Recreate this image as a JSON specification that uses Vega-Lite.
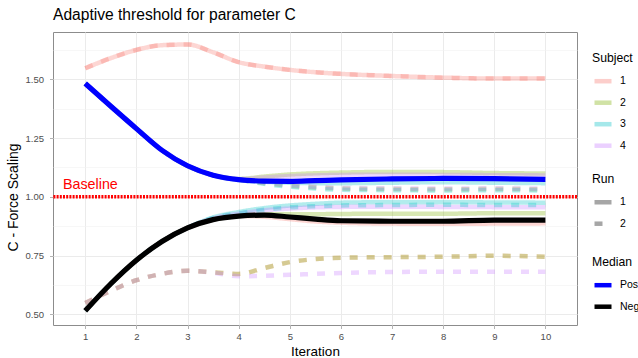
{
"$schema":"https://vega.github.io/schema/vega-lite/v6.json",
"width":524,"height":293,
"autosize":{"type":"none"},
"padding":{"left":53,"top":32,"right":61,"bottom":33},
"title":{"text":"Adaptive threshold for parameter C","anchor":"start","frame":"group","fontSize":15.6,"font":"Liberation Sans","fontWeight":"normal","color":"black","offset":8},
"config":{
"font":"Liberation Sans",
"view":{"stroke":"#8c8c8c","strokeWidth":1},
"axis":{"gridColor":"#EBEBEB","gridWidth":1,"domain":false,"tickColor":"#B3B3B3","tickSize":3.5,"labelColor":"#4D4D4D","labelFontSize":9.5,"titleFontSize":13.5,"titleFontWeight":"normal","titleColor":"black","labelPadding":3},
"legend":{"titleFontSize":12.2,"titleFontWeight":"normal","titleColor":"black","labelFontSize":10.5,"labelColor":"black","symbolType":"stroke","symbolSize":289,"symbolStrokeWidth":4.5,"rowPadding":1.5,"titlePadding":6,"labelOffset":6}
},
"datasets":{
"subj":[
{"Iteration":1,"Subject":"1","Run":"1","Side":"Pos","Value":1.547},{"Iteration":1.5,"Subject":"1","Run":"1","Side":"Pos","Value":1.59},{"Iteration":2,"Subject":"1","Run":"1","Side":"Pos","Value":1.625},{"Iteration":2.5,"Subject":"1","Run":"1","Side":"Pos","Value":1.645},{"Iteration":3,"Subject":"1","Run":"1","Side":"Pos","Value":1.648},{"Iteration":3.5,"Subject":"1","Run":"1","Side":"Pos","Value":1.615},{"Iteration":4,"Subject":"1","Run":"1","Side":"Pos","Value":1.573},{"Iteration":4.5,"Subject":"1","Run":"1","Side":"Pos","Value":1.554},{"Iteration":5,"Subject":"1","Run":"1","Side":"Pos","Value":1.54},{"Iteration":5.5,"Subject":"1","Run":"1","Side":"Pos","Value":1.53},{"Iteration":6,"Subject":"1","Run":"1","Side":"Pos","Value":1.523},{"Iteration":7,"Subject":"1","Run":"1","Side":"Pos","Value":1.514},{"Iteration":8,"Subject":"1","Run":"1","Side":"Pos","Value":1.507},{"Iteration":9,"Subject":"1","Run":"1","Side":"Pos","Value":1.503},{"Iteration":10,"Subject":"1","Run":"1","Side":"Pos","Value":1.503},
{"Iteration":1,"Subject":"1","Run":"2","Side":"Pos","Value":1.547},{"Iteration":1.5,"Subject":"1","Run":"2","Side":"Pos","Value":1.59},{"Iteration":2,"Subject":"1","Run":"2","Side":"Pos","Value":1.625},{"Iteration":2.5,"Subject":"1","Run":"2","Side":"Pos","Value":1.645},{"Iteration":3,"Subject":"1","Run":"2","Side":"Pos","Value":1.648},{"Iteration":3.5,"Subject":"1","Run":"2","Side":"Pos","Value":1.615},{"Iteration":4,"Subject":"1","Run":"2","Side":"Pos","Value":1.573},{"Iteration":4.5,"Subject":"1","Run":"2","Side":"Pos","Value":1.554},{"Iteration":5,"Subject":"1","Run":"2","Side":"Pos","Value":1.54},{"Iteration":5.5,"Subject":"1","Run":"2","Side":"Pos","Value":1.53},{"Iteration":6,"Subject":"1","Run":"2","Side":"Pos","Value":1.523},{"Iteration":7,"Subject":"1","Run":"2","Side":"Pos","Value":1.514},{"Iteration":8,"Subject":"1","Run":"2","Side":"Pos","Value":1.507},{"Iteration":9,"Subject":"1","Run":"2","Side":"Pos","Value":1.503},{"Iteration":10,"Subject":"1","Run":"2","Side":"Pos","Value":1.503},
{"Iteration":1,"Subject":"2","Run":"1","Side":"Pos","Value":1.482},{"Iteration":1.5,"Subject":"2","Run":"1","Side":"Pos","Value":1.385},{"Iteration":2,"Subject":"2","Run":"1","Side":"Pos","Value":1.29},{"Iteration":2.5,"Subject":"2","Run":"1","Side":"Pos","Value":1.198},{"Iteration":3,"Subject":"2","Run":"1","Side":"Pos","Value":1.132},{"Iteration":3.5,"Subject":"2","Run":"1","Side":"Pos","Value":1.092},{"Iteration":4,"Subject":"2","Run":"1","Side":"Pos","Value":1.076},{"Iteration":4.5,"Subject":"2","Run":"1","Side":"Pos","Value":1.086},{"Iteration":5,"Subject":"2","Run":"1","Side":"Pos","Value":1.095},{"Iteration":5.5,"Subject":"2","Run":"1","Side":"Pos","Value":1.1},{"Iteration":6,"Subject":"2","Run":"1","Side":"Pos","Value":1.103},{"Iteration":7,"Subject":"2","Run":"1","Side":"Pos","Value":1.106},{"Iteration":8,"Subject":"2","Run":"1","Side":"Pos","Value":1.105},{"Iteration":9,"Subject":"2","Run":"1","Side":"Pos","Value":1.101},{"Iteration":10,"Subject":"2","Run":"1","Side":"Pos","Value":1.099},
{"Iteration":1,"Subject":"3","Run":"1","Side":"Pos","Value":1.482},{"Iteration":1.5,"Subject":"3","Run":"1","Side":"Pos","Value":1.385},{"Iteration":2,"Subject":"3","Run":"1","Side":"Pos","Value":1.29},{"Iteration":2.5,"Subject":"3","Run":"1","Side":"Pos","Value":1.198},{"Iteration":3,"Subject":"3","Run":"1","Side":"Pos","Value":1.132},{"Iteration":3.5,"Subject":"3","Run":"1","Side":"Pos","Value":1.092},{"Iteration":4,"Subject":"3","Run":"1","Side":"Pos","Value":1.071},{"Iteration":4.5,"Subject":"3","Run":"1","Side":"Pos","Value":1.064},{"Iteration":5,"Subject":"3","Run":"1","Side":"Pos","Value":1.06},{"Iteration":5.5,"Subject":"3","Run":"1","Side":"Pos","Value":1.058},{"Iteration":6,"Subject":"3","Run":"1","Side":"Pos","Value":1.058},{"Iteration":7,"Subject":"3","Run":"1","Side":"Pos","Value":1.06},{"Iteration":8,"Subject":"3","Run":"1","Side":"Pos","Value":1.062},{"Iteration":9,"Subject":"3","Run":"1","Side":"Pos","Value":1.06},{"Iteration":10,"Subject":"3","Run":"1","Side":"Pos","Value":1.058},
{"Iteration":1,"Subject":"4","Run":"1","Side":"Pos","Value":1.482},{"Iteration":1.5,"Subject":"4","Run":"1","Side":"Pos","Value":1.385},{"Iteration":2,"Subject":"4","Run":"1","Side":"Pos","Value":1.29},{"Iteration":2.5,"Subject":"4","Run":"1","Side":"Pos","Value":1.198},{"Iteration":3,"Subject":"4","Run":"1","Side":"Pos","Value":1.132},{"Iteration":3.5,"Subject":"4","Run":"1","Side":"Pos","Value":1.092},{"Iteration":4,"Subject":"4","Run":"1","Side":"Pos","Value":1.075},{"Iteration":4.5,"Subject":"4","Run":"1","Side":"Pos","Value":1.082},{"Iteration":5,"Subject":"4","Run":"1","Side":"Pos","Value":1.088},{"Iteration":5.5,"Subject":"4","Run":"1","Side":"Pos","Value":1.091},{"Iteration":6,"Subject":"4","Run":"1","Side":"Pos","Value":1.093},{"Iteration":7,"Subject":"4","Run":"1","Side":"Pos","Value":1.094},{"Iteration":8,"Subject":"4","Run":"1","Side":"Pos","Value":1.093},{"Iteration":9,"Subject":"4","Run":"1","Side":"Pos","Value":1.092},{"Iteration":10,"Subject":"4","Run":"1","Side":"Pos","Value":1.091},
{"Iteration":1,"Subject":"2","Run":"2","Side":"Pos","Value":1.482},{"Iteration":1.5,"Subject":"2","Run":"2","Side":"Pos","Value":1.385},{"Iteration":2,"Subject":"2","Run":"2","Side":"Pos","Value":1.29},{"Iteration":2.5,"Subject":"2","Run":"2","Side":"Pos","Value":1.198},{"Iteration":3,"Subject":"2","Run":"2","Side":"Pos","Value":1.132},{"Iteration":3.5,"Subject":"2","Run":"2","Side":"Pos","Value":1.092},{"Iteration":4,"Subject":"2","Run":"2","Side":"Pos","Value":1.073},{"Iteration":4.5,"Subject":"2","Run":"2","Side":"Pos","Value":1.058},{"Iteration":5,"Subject":"2","Run":"2","Side":"Pos","Value":1.047},{"Iteration":5.5,"Subject":"2","Run":"2","Side":"Pos","Value":1.04},{"Iteration":6,"Subject":"2","Run":"2","Side":"Pos","Value":1.035},{"Iteration":7,"Subject":"2","Run":"2","Side":"Pos","Value":1.033},{"Iteration":8,"Subject":"2","Run":"2","Side":"Pos","Value":1.032},{"Iteration":9,"Subject":"2","Run":"2","Side":"Pos","Value":1.033},{"Iteration":10,"Subject":"2","Run":"2","Side":"Pos","Value":1.032},
{"Iteration":1,"Subject":"3","Run":"2","Side":"Pos","Value":1.482},{"Iteration":1.5,"Subject":"3","Run":"2","Side":"Pos","Value":1.385},{"Iteration":2,"Subject":"3","Run":"2","Side":"Pos","Value":1.29},{"Iteration":2.5,"Subject":"3","Run":"2","Side":"Pos","Value":1.198},{"Iteration":3,"Subject":"3","Run":"2","Side":"Pos","Value":1.132},{"Iteration":3.5,"Subject":"3","Run":"2","Side":"Pos","Value":1.092},{"Iteration":4,"Subject":"3","Run":"2","Side":"Pos","Value":1.073},{"Iteration":4.5,"Subject":"3","Run":"2","Side":"Pos","Value":1.055},{"Iteration":5,"Subject":"3","Run":"2","Side":"Pos","Value":1.043},{"Iteration":5.5,"Subject":"3","Run":"2","Side":"Pos","Value":1.035},{"Iteration":6,"Subject":"3","Run":"2","Side":"Pos","Value":1.03},{"Iteration":7,"Subject":"3","Run":"2","Side":"Pos","Value":1.028},{"Iteration":8,"Subject":"3","Run":"2","Side":"Pos","Value":1.027},{"Iteration":9,"Subject":"3","Run":"2","Side":"Pos","Value":1.028},{"Iteration":10,"Subject":"3","Run":"2","Side":"Pos","Value":1.027},
{"Iteration":1,"Subject":"4","Run":"2","Side":"Pos","Value":1.482},{"Iteration":1.5,"Subject":"4","Run":"2","Side":"Pos","Value":1.385},{"Iteration":2,"Subject":"4","Run":"2","Side":"Pos","Value":1.29},{"Iteration":2.5,"Subject":"4","Run":"2","Side":"Pos","Value":1.198},{"Iteration":3,"Subject":"4","Run":"2","Side":"Pos","Value":1.132},{"Iteration":3.5,"Subject":"4","Run":"2","Side":"Pos","Value":1.092},{"Iteration":4,"Subject":"4","Run":"2","Side":"Pos","Value":1.073},{"Iteration":4.5,"Subject":"4","Run":"2","Side":"Pos","Value":1.06},{"Iteration":5,"Subject":"4","Run":"2","Side":"Pos","Value":1.05},{"Iteration":5.5,"Subject":"4","Run":"2","Side":"Pos","Value":1.043},{"Iteration":6,"Subject":"4","Run":"2","Side":"Pos","Value":1.038},{"Iteration":7,"Subject":"4","Run":"2","Side":"Pos","Value":1.036},{"Iteration":8,"Subject":"4","Run":"2","Side":"Pos","Value":1.035},{"Iteration":9,"Subject":"4","Run":"2","Side":"Pos","Value":1.036},{"Iteration":10,"Subject":"4","Run":"2","Side":"Pos","Value":1.035},
{"Iteration":1,"Subject":"1","Run":"1","Side":"Neg","Value":0.515},{"Iteration":1.5,"Subject":"1","Run":"1","Side":"Neg","Value":0.63},{"Iteration":2,"Subject":"1","Run":"1","Side":"Neg","Value":0.73},{"Iteration":2.5,"Subject":"1","Run":"1","Side":"Neg","Value":0.81},{"Iteration":3,"Subject":"1","Run":"1","Side":"Neg","Value":0.868},{"Iteration":3.5,"Subject":"1","Run":"1","Side":"Neg","Value":0.903},{"Iteration":4,"Subject":"1","Run":"1","Side":"Neg","Value":0.918},{"Iteration":4.5,"Subject":"1","Run":"1","Side":"Neg","Value":0.915},{"Iteration":5,"Subject":"1","Run":"1","Side":"Neg","Value":0.905},{"Iteration":5.5,"Subject":"1","Run":"1","Side":"Neg","Value":0.895},{"Iteration":6,"Subject":"1","Run":"1","Side":"Neg","Value":0.89},{"Iteration":7,"Subject":"1","Run":"1","Side":"Neg","Value":0.886},{"Iteration":8,"Subject":"1","Run":"1","Side":"Neg","Value":0.885},{"Iteration":9,"Subject":"1","Run":"1","Side":"Neg","Value":0.886},{"Iteration":10,"Subject":"1","Run":"1","Side":"Neg","Value":0.887},
{"Iteration":1,"Subject":"2","Run":"1","Side":"Neg","Value":0.515},{"Iteration":1.5,"Subject":"2","Run":"1","Side":"Neg","Value":0.63},{"Iteration":2,"Subject":"2","Run":"1","Side":"Neg","Value":0.73},{"Iteration":2.5,"Subject":"2","Run":"1","Side":"Neg","Value":0.81},{"Iteration":3,"Subject":"2","Run":"1","Side":"Neg","Value":0.868},{"Iteration":3.5,"Subject":"2","Run":"1","Side":"Neg","Value":0.903},{"Iteration":4,"Subject":"2","Run":"1","Side":"Neg","Value":0.918},{"Iteration":4.5,"Subject":"2","Run":"1","Side":"Neg","Value":0.925},{"Iteration":5,"Subject":"2","Run":"1","Side":"Neg","Value":0.926},{"Iteration":5.5,"Subject":"2","Run":"1","Side":"Neg","Value":0.926},{"Iteration":6,"Subject":"2","Run":"1","Side":"Neg","Value":0.927},{"Iteration":7,"Subject":"2","Run":"1","Side":"Neg","Value":0.928},{"Iteration":8,"Subject":"2","Run":"1","Side":"Neg","Value":0.928},{"Iteration":9,"Subject":"2","Run":"1","Side":"Neg","Value":0.93},{"Iteration":10,"Subject":"2","Run":"1","Side":"Neg","Value":0.93},
{"Iteration":1,"Subject":"3","Run":"1","Side":"Neg","Value":0.515},{"Iteration":1.5,"Subject":"3","Run":"1","Side":"Neg","Value":0.63},{"Iteration":2,"Subject":"3","Run":"1","Side":"Neg","Value":0.73},{"Iteration":2.5,"Subject":"3","Run":"1","Side":"Neg","Value":0.81},{"Iteration":3,"Subject":"3","Run":"1","Side":"Neg","Value":0.868},{"Iteration":3.5,"Subject":"3","Run":"1","Side":"Neg","Value":0.912},{"Iteration":4,"Subject":"3","Run":"1","Side":"Neg","Value":0.935},{"Iteration":4.5,"Subject":"3","Run":"1","Side":"Neg","Value":0.952},{"Iteration":5,"Subject":"3","Run":"1","Side":"Neg","Value":0.963},{"Iteration":5.5,"Subject":"3","Run":"1","Side":"Neg","Value":0.97},{"Iteration":6,"Subject":"3","Run":"1","Side":"Neg","Value":0.975},{"Iteration":7,"Subject":"3","Run":"1","Side":"Neg","Value":0.977},{"Iteration":8,"Subject":"3","Run":"1","Side":"Neg","Value":0.977},{"Iteration":9,"Subject":"3","Run":"1","Side":"Neg","Value":0.976},{"Iteration":10,"Subject":"3","Run":"1","Side":"Neg","Value":0.975},
{"Iteration":1,"Subject":"4","Run":"1","Side":"Neg","Value":0.515},{"Iteration":1.5,"Subject":"4","Run":"1","Side":"Neg","Value":0.63},{"Iteration":2,"Subject":"4","Run":"1","Side":"Neg","Value":0.73},{"Iteration":2.5,"Subject":"4","Run":"1","Side":"Neg","Value":0.81},{"Iteration":3,"Subject":"4","Run":"1","Side":"Neg","Value":0.868},{"Iteration":3.5,"Subject":"4","Run":"1","Side":"Neg","Value":0.908},{"Iteration":4,"Subject":"4","Run":"1","Side":"Neg","Value":0.928},{"Iteration":4.5,"Subject":"4","Run":"1","Side":"Neg","Value":0.942},{"Iteration":5,"Subject":"4","Run":"1","Side":"Neg","Value":0.95},{"Iteration":5.5,"Subject":"4","Run":"1","Side":"Neg","Value":0.955},{"Iteration":6,"Subject":"4","Run":"1","Side":"Neg","Value":0.957},{"Iteration":7,"Subject":"4","Run":"1","Side":"Neg","Value":0.958},{"Iteration":8,"Subject":"4","Run":"1","Side":"Neg","Value":0.957},{"Iteration":9,"Subject":"4","Run":"1","Side":"Neg","Value":0.956},{"Iteration":10,"Subject":"4","Run":"1","Side":"Neg","Value":0.955},
{"Iteration":1,"Subject":"1","Run":"2","Side":"Neg","Value":0.548},{"Iteration":1.5,"Subject":"1","Run":"2","Side":"Neg","Value":0.6},{"Iteration":2,"Subject":"1","Run":"2","Side":"Neg","Value":0.645},{"Iteration":2.5,"Subject":"1","Run":"2","Side":"Neg","Value":0.672},{"Iteration":3,"Subject":"1","Run":"2","Side":"Neg","Value":0.685},{"Iteration":3.5,"Subject":"1","Run":"2","Side":"Neg","Value":0.679},{"Iteration":4,"Subject":"1","Run":"2","Side":"Neg","Value":0.672},{"Iteration":4.5,"Subject":"1","Run":"2","Side":"Neg","Value":0.697},{"Iteration":5,"Subject":"1","Run":"2","Side":"Neg","Value":0.722},{"Iteration":5.5,"Subject":"1","Run":"2","Side":"Neg","Value":0.735},{"Iteration":6,"Subject":"1","Run":"2","Side":"Neg","Value":0.741},{"Iteration":7,"Subject":"1","Run":"2","Side":"Neg","Value":0.743},{"Iteration":8,"Subject":"1","Run":"2","Side":"Neg","Value":0.745},{"Iteration":9,"Subject":"1","Run":"2","Side":"Neg","Value":0.749},{"Iteration":10,"Subject":"1","Run":"2","Side":"Neg","Value":0.745},
{"Iteration":1,"Subject":"2","Run":"2","Side":"Neg","Value":0.548},{"Iteration":1.5,"Subject":"2","Run":"2","Side":"Neg","Value":0.6},{"Iteration":2,"Subject":"2","Run":"2","Side":"Neg","Value":0.645},{"Iteration":2.5,"Subject":"2","Run":"2","Side":"Neg","Value":0.672},{"Iteration":3,"Subject":"2","Run":"2","Side":"Neg","Value":0.685},{"Iteration":3.5,"Subject":"2","Run":"2","Side":"Neg","Value":0.679},{"Iteration":4,"Subject":"2","Run":"2","Side":"Neg","Value":0.672},{"Iteration":4.5,"Subject":"2","Run":"2","Side":"Neg","Value":0.697},{"Iteration":5,"Subject":"2","Run":"2","Side":"Neg","Value":0.722},{"Iteration":5.5,"Subject":"2","Run":"2","Side":"Neg","Value":0.735},{"Iteration":6,"Subject":"2","Run":"2","Side":"Neg","Value":0.741},{"Iteration":7,"Subject":"2","Run":"2","Side":"Neg","Value":0.743},{"Iteration":8,"Subject":"2","Run":"2","Side":"Neg","Value":0.745},{"Iteration":9,"Subject":"2","Run":"2","Side":"Neg","Value":0.749},{"Iteration":10,"Subject":"2","Run":"2","Side":"Neg","Value":0.745},
{"Iteration":1,"Subject":"3","Run":"2","Side":"Neg","Value":0.515},{"Iteration":1.5,"Subject":"3","Run":"2","Side":"Neg","Value":0.63},{"Iteration":2,"Subject":"3","Run":"2","Side":"Neg","Value":0.73},{"Iteration":2.5,"Subject":"3","Run":"2","Side":"Neg","Value":0.81},{"Iteration":3,"Subject":"3","Run":"2","Side":"Neg","Value":0.868},{"Iteration":3.5,"Subject":"3","Run":"2","Side":"Neg","Value":0.91},{"Iteration":4,"Subject":"3","Run":"2","Side":"Neg","Value":0.93},{"Iteration":4.5,"Subject":"3","Run":"2","Side":"Neg","Value":0.945},{"Iteration":5,"Subject":"3","Run":"2","Side":"Neg","Value":0.955},{"Iteration":5.5,"Subject":"3","Run":"2","Side":"Neg","Value":0.96},{"Iteration":6,"Subject":"3","Run":"2","Side":"Neg","Value":0.963},{"Iteration":7,"Subject":"3","Run":"2","Side":"Neg","Value":0.965},{"Iteration":8,"Subject":"3","Run":"2","Side":"Neg","Value":0.966},{"Iteration":9,"Subject":"3","Run":"2","Side":"Neg","Value":0.965},{"Iteration":10,"Subject":"3","Run":"2","Side":"Neg","Value":0.965},
{"Iteration":1,"Subject":"4","Run":"2","Side":"Neg","Value":0.548},{"Iteration":1.5,"Subject":"4","Run":"2","Side":"Neg","Value":0.6},{"Iteration":2,"Subject":"4","Run":"2","Side":"Neg","Value":0.645},{"Iteration":2.5,"Subject":"4","Run":"2","Side":"Neg","Value":0.672},{"Iteration":3,"Subject":"4","Run":"2","Side":"Neg","Value":0.685},{"Iteration":3.5,"Subject":"4","Run":"2","Side":"Neg","Value":0.677},{"Iteration":4,"Subject":"4","Run":"2","Side":"Neg","Value":0.662},{"Iteration":4.5,"Subject":"4","Run":"2","Side":"Neg","Value":0.664},{"Iteration":5,"Subject":"4","Run":"2","Side":"Neg","Value":0.668},{"Iteration":5.5,"Subject":"4","Run":"2","Side":"Neg","Value":0.672},{"Iteration":6,"Subject":"4","Run":"2","Side":"Neg","Value":0.676},{"Iteration":7,"Subject":"4","Run":"2","Side":"Neg","Value":0.68},{"Iteration":8,"Subject":"4","Run":"2","Side":"Neg","Value":0.681},{"Iteration":9,"Subject":"4","Run":"2","Side":"Neg","Value":0.681},{"Iteration":10,"Subject":"4","Run":"2","Side":"Neg","Value":0.681}
],
"med":[
{"Iteration":1,"Median":"Positive","Value":1.482},{"Iteration":1.5,"Median":"Positive","Value":1.385},{"Iteration":2,"Median":"Positive","Value":1.29},{"Iteration":2.5,"Median":"Positive","Value":1.198},{"Iteration":3,"Median":"Positive","Value":1.132},{"Iteration":3.5,"Median":"Positive","Value":1.092},{"Iteration":4,"Median":"Positive","Value":1.073},{"Iteration":4.5,"Median":"Positive","Value":1.067},{"Iteration":5,"Median":"Positive","Value":1.066},{"Iteration":5.5,"Median":"Positive","Value":1.069},{"Iteration":6,"Median":"Positive","Value":1.072},{"Iteration":7,"Median":"Positive","Value":1.076},{"Iteration":8,"Median":"Positive","Value":1.078},{"Iteration":9,"Median":"Positive","Value":1.077},{"Iteration":10,"Median":"Positive","Value":1.074},
{"Iteration":1,"Median":"Negative","Value":0.515},{"Iteration":1.5,"Median":"Negative","Value":0.63},{"Iteration":2,"Median":"Negative","Value":0.73},{"Iteration":2.5,"Median":"Negative","Value":0.81},{"Iteration":3,"Median":"Negative","Value":0.868},{"Iteration":3.5,"Median":"Negative","Value":0.903},{"Iteration":4,"Median":"Negative","Value":0.918},{"Iteration":4.5,"Median":"Negative","Value":0.922},{"Iteration":5,"Median":"Negative","Value":0.914},{"Iteration":5.5,"Median":"Negative","Value":0.905},{"Iteration":6,"Median":"Negative","Value":0.898},{"Iteration":7,"Median":"Negative","Value":0.896},{"Iteration":8,"Median":"Negative","Value":0.896},{"Iteration":9,"Median":"Negative","Value":0.901},{"Iteration":10,"Median":"Negative","Value":0.901}
]
},
"layer":[
{"data":{"name":"subj"},
"mark":{"type":"line","opacity":0.3,"strokeWidth":4.5,"strokeCap":"butt","interpolate":"monotone"},
"encoding":{
"x":{"field":"Iteration","type":"quantitative","scale":{"domain":[0.369,10.618],"nice":false,"zero":false},"axis":{"values":[1,2,3,4,5,6,7,8,9,10],"format":"d","title":"Iteration","grid":true,"titlePadding":3}},
"y":{"field":"Value","type":"quantitative","scale":{"domain":[0.4545,1.7012],"nice":false,"zero":false},"axis":{"orient":"left","values":[0.5,0.75,1,1.25,1.5],"format":".2f","title":"C - Force Scaling","grid":true,"labelPadding":6,"titlePadding":5,"titleFontSize":14,"titleY":165}},
"color":{"field":"Subject","type":"nominal","scale":{"domain":["1","2","3","4"],"range":["#F8766D","#7CAE00","#00BFC4","#C77CFF"]},"legend":{"orient":"none","legendX":539,"legendY":20,"title":"Subject","symbolOpacity":0.35}},
"strokeDash":{"field":"Run","type":"nominal","scale":{"domain":["1","2"],"range":[[1,0],[8,9]]},"legend":{"orient":"none","legendX":539,"legendY":141,"title":"Run","symbolStrokeColor":"#A6A6A6","symbolOpacity":1}},
"detail":{"field":"Side"}
}},
{"data":{"values":[{"Baseline":1}]},
"mark":{"type":"rule","color":"#FF0000","strokeWidth":3.5,"strokeDash":[2,1.2]},
"encoding":{"y":{"field":"Baseline","type":"quantitative","scale":{"domain":[0.4545,1.7012],"nice":false,"zero":false},"axis":{"orient":"right","values":[0.625,0.875,1.125,1.375,1.625],"grid":true,"gridColor":"#F2F2F2","gridWidth":0.6,"labels":false,"ticks":false,"domain":false,"title":null}}}},
{"data":{"name":"med"},
"mark":{"type":"line","strokeWidth":5.2,"strokeCap":"butt","interpolate":"monotone"},
"encoding":{
"x":{"field":"Iteration","type":"quantitative"},
"y":{"field":"Value","type":"quantitative","axis":null},
"color":{"field":"Median","type":"nominal","scale":{"domain":["Positive","Negative"],"range":["#0000FF","#000000"]},"legend":{"orient":"none","legendX":539,"legendY":224,"title":"Median","symbolOpacity":1}}
}},
{"data":{"values":[{"Iteration":1.1,"Value":1.05,"Label":"Baseline"}]},
"mark":{"type":"text","color":"#FF0000","fontSize":14.3,"align":"center","baseline":"middle"},
"encoding":{
"x":{"field":"Iteration","type":"quantitative"},
"y":{"field":"Value","type":"quantitative","axis":null},
"text":{"field":"Label"}
}}
],
"resolve":{"scale":{"color":"independent"},"axis":{"y":"independent"}}
}
